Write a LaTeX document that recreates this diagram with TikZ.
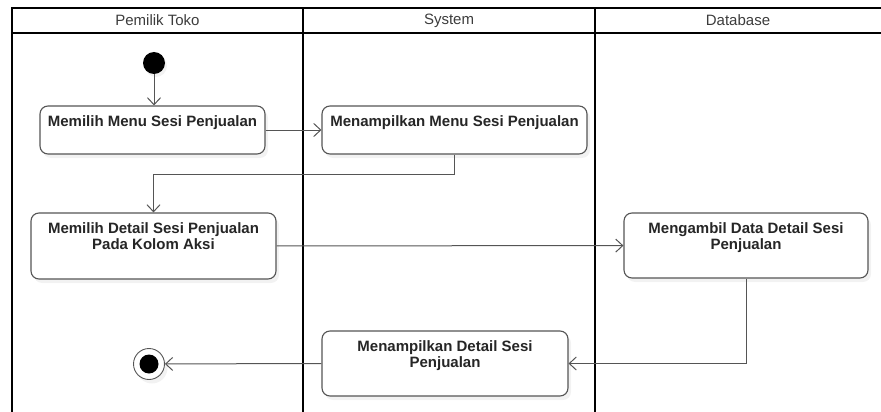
\documentclass[tikz,border=0pt]{standalone}
\usepackage{fontspec}
\setmainfont{Liberation Sans}
\usepackage{tikz}
\usetikzlibrary{positioning}
\usetikzlibrary{arrows.meta}
\usetikzlibrary{shadows}
\definecolor{edge}{HTML}{555555}
\definecolor{ink}{HTML}{262626}
\tikzstyle{lane}=[draw=black, line width=2.4pt, line join=miter]
\tikzstyle{act}=[draw=edge, rectangle, rounded corners=8pt, fill=white, line width=1.1pt, drop shadow={shadow xshift=3pt, shadow yshift=-4pt, opacity=0.1}]
\tikzstyle{actlbl}=[inner sep=0pt, align=center, text=ink, font=\fontsize{15}{16}\selectfont\bfseries]
\tikzstyle{hdr}=[inner sep=0pt, text=ink!90, font=\fontsize{15}{16}\selectfont]
\tikzstyle{flow}=[draw=edge, line width=1pt, -{Straight Barb[length=7pt, width=13pt]}]

\begin{document}
\begin{tikzpicture}[x=1pt, y=-1pt]
      \useasboundingbox (0,0) rectangle (881,412);
      % swimlanes
      \path [lane] (881,8) -- (12,8) -- (12,412);
      \path [lane] (12,33) -- (881,33);
      \path [lane] (303,8) -- (303,412);
      \path [lane] (595,8) -- (595,412);
      \node [hdr] (h1) at (157.5,20.5) {Pemilik Toko};
      \node [hdr] (h2) at (449,20.5) {System};
      \node [hdr] (h3) at (738,20.5) {Database};
      % start and end
      \node [circle, fill=black, minimum size=22pt, inner sep=0pt, drop shadow={shadow xshift=2pt, shadow yshift=-3pt, opacity=0.1}] (start) at (154,63) {};
      \node [circle, draw=edge, fill=white, line width=0.9pt, minimum size=31pt, inner sep=0pt, drop shadow={shadow xshift=3pt, shadow yshift=-4pt, opacity=0.1}] (end) at (149,364) {};
      \node [circle, fill=black, minimum size=19pt, inner sep=0pt] (endin) at (end) {};
      % activities
      \node [act, minimum width=225pt, minimum height=48pt] (a1) at (152.5,130) {};
      \node [act, minimum width=265pt, minimum height=48pt] (a2) at (454.5,130) {};
      \node [act, minimum width=245pt, minimum height=66pt] (a3) at (153.5,246) {};
      \node [act, minimum width=244pt, minimum height=65pt] (a4) at (746,245.5) {};
      \node [act, minimum width=246pt, minimum height=65pt] (a5) at (445,363.5) {};
      \node [actlbl, below=9.5pt of a1.north] (t1) {Memilih Menu Sesi Penjualan};
      \node [actlbl, below=9.5pt of a2.north] (t2) {Menampilkan Menu Sesi Penjualan};
      \node [actlbl, below=10pt of a3.north] (t3) {Memilih Detail Sesi Penjualan\\Pada Kolom Aksi};
      \node [actlbl, below=10pt of a4.north] (t4) {Mengambil Data Detail Sesi\\Penjualan};
      \node [actlbl, below=10pt of a5.north] (t5) {Menampilkan Detail Sesi\\Penjualan};
      \path [flow]
      (start) -- (start |- a1.north);
      \path [flow] (a1) -- (a2);
      \path [flow] (a2.south) -- ++(0,20) -| (a3.north);
      \path [flow] (a3) -- (a4);
      \path [flow] (a4.south) |- (a5.east);
      \path [flow] (a5.west) -- (end);
\end{tikzpicture}
\end{document}
